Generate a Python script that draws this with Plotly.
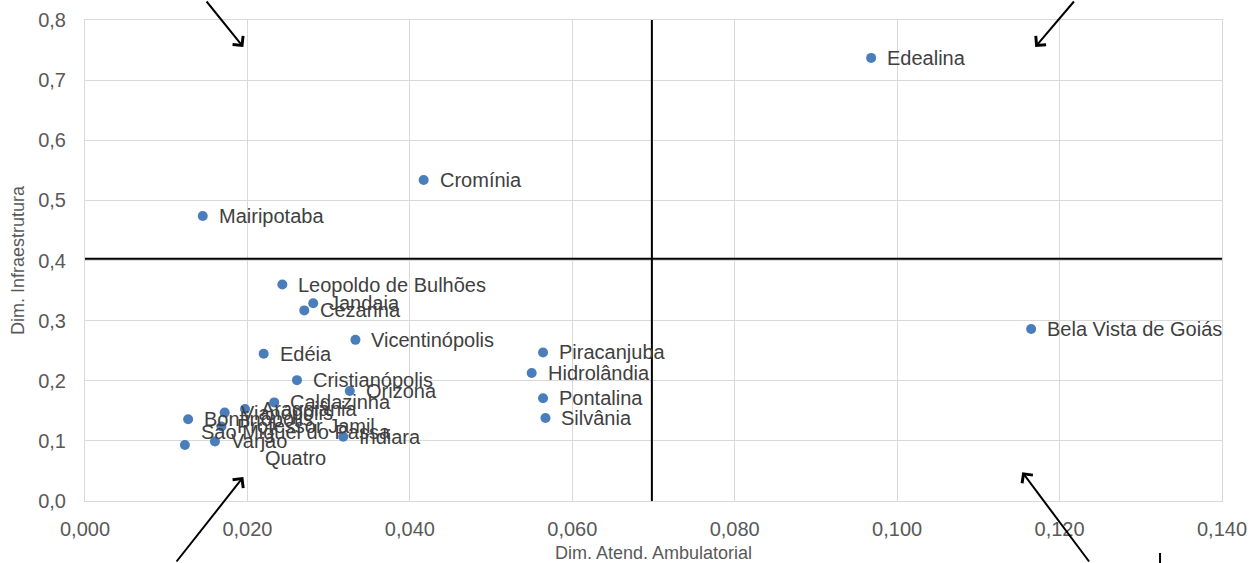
import plotly.graph_objects as go

# ---- data ----
municipios = [
    "Edealina", "Cromínia", "Mairipotaba", "Bela Vista de Goiás",
    "Leopoldo de Bulhões", "Jandaia", "Cezarina", "Vicentinópolis",
    "Edéia", "Cristianópolis", "Orizona", "Caldazinha", "Aragoiânia",
    "Vianópolis", "Bonfinópolis", "Professor Jamil",
    "São Miguel do Passa<br>Quatro", "Varjão", "Indiara",
    "Piracanjuba", "Hidrolândia", "Pontalina", "Silvânia",
]
atend_ambulatorial = [
    0.0968, 0.0417, 0.0145, 0.1165,
    0.0243, 0.0281, 0.0270, 0.0333,
    0.0220, 0.0261, 0.0326, 0.0233, 0.0197,
    0.0172, 0.0127, 0.0168,
    0.0123, 0.0160, 0.0318,
    0.0564, 0.0550, 0.0564, 0.0567,
]
infraestrutura = [
    0.737, 0.534, 0.474, 0.286,
    0.360, 0.329, 0.317, 0.268,
    0.245, 0.201, 0.183, 0.164, 0.153,
    0.147, 0.136, 0.124,
    0.093, 0.099, 0.107,
    0.247, 0.213, 0.171, 0.138,
]
media_x = 0.0698   # vertical reference line
media_y = 0.403    # horizontal reference line
x_range = [0, 0.14]
y_range = [0, 0.8]

# arrows: head position (data) and tail offset (px)
arrow_heads_x = [0.0195, 0.1170, 0.0195, 0.1154]
arrow_heads_y = [0.755, 0.755, 0.040, 0.048]
arrow_ax = [-38, 40, -68, 68]
arrow_ay = [-55, -55, 95, 100]

FONT = "Liberation Sans, Arial, sans-serif"
fig = go.Figure()

fig.add_trace(go.Scatter(x=[media_x, media_x], y=y_range, mode="lines",
                         line=dict(color="black", width=2), hoverinfo="skip",
                         showlegend=False))
fig.add_trace(go.Scatter(x=x_range, y=[media_y, media_y], mode="lines",
                         line=dict(color="black", width=2), hoverinfo="skip",
                         showlegend=False))
fig.add_trace(go.Scatter(x=atend_ambulatorial, y=infraestrutura, mode="markers",
                         marker=dict(color="#4a7ebb", size=10),
                         text=municipios, showlegend=False, cliponaxis=False))

annotations = []
for name, xv, yv in zip(municipios, atend_ambulatorial, infraestrutura):
    annotations.append(dict(x=xv, y=yv, xref="x", yref="y", text=name,
                            showarrow=False, xanchor="left", yanchor="middle",
                            align="center", xshift=14,
                            font=dict(family=FONT, size=20, color="#404040")))
for hx, hy, ax, ay in zip(arrow_heads_x, arrow_heads_y, arrow_ax, arrow_ay):
    annotations.append(dict(x=hx, y=hy, xref="x", yref="y", text="",
                            showarrow=True, ax=ax, ay=ay, axref="pixel",
                            ayref="pixel", arrowhead=4, arrowsize=1.3,
                            arrowwidth=2, arrowcolor="black", standoff=0))

axis_common = dict(showgrid=True, gridcolor="#d9d9d9", gridwidth=1,
                   zeroline=False, showline=True, linecolor="#d9d9d9",
                   mirror=True, ticks="", automargin=False,
                   tickfont=dict(family=FONT, size=20, color="#595959"),
                   title_font=dict(family=FONT, size=18, color="#595959"))

fig.update_layout(
    width=1250, height=563,
    margin=dict(l=85, r=28, t=20, b=62),
    paper_bgcolor="white", plot_bgcolor="white",
    separators=",.",
    xaxis=dict(range=x_range, dtick=0.02, tickformat=".3f",
               title=dict(text="Dim. Atend. Ambulatorial", standoff=8),
               ticklabelstandoff=10, **axis_common),
    yaxis=dict(range=y_range, dtick=0.1, tickformat=".1f",
               title=dict(text="Dim. Infraestrutura", standoff=8),
               ticklabelstandoff=14, **axis_common),
    annotations=annotations,
    shapes=[dict(type="line", xref="paper", yref="paper",
                 x0=0.9455, x1=0.9455, y0=-0.108, y1=-0.14,
                 line=dict(color="black", width=2))],
)

fig.write_html("out.html", config={"displayModeBar": False},
               post_script="document.body.style.margin='0';"
                           "document.body.style.overflow='hidden';")
